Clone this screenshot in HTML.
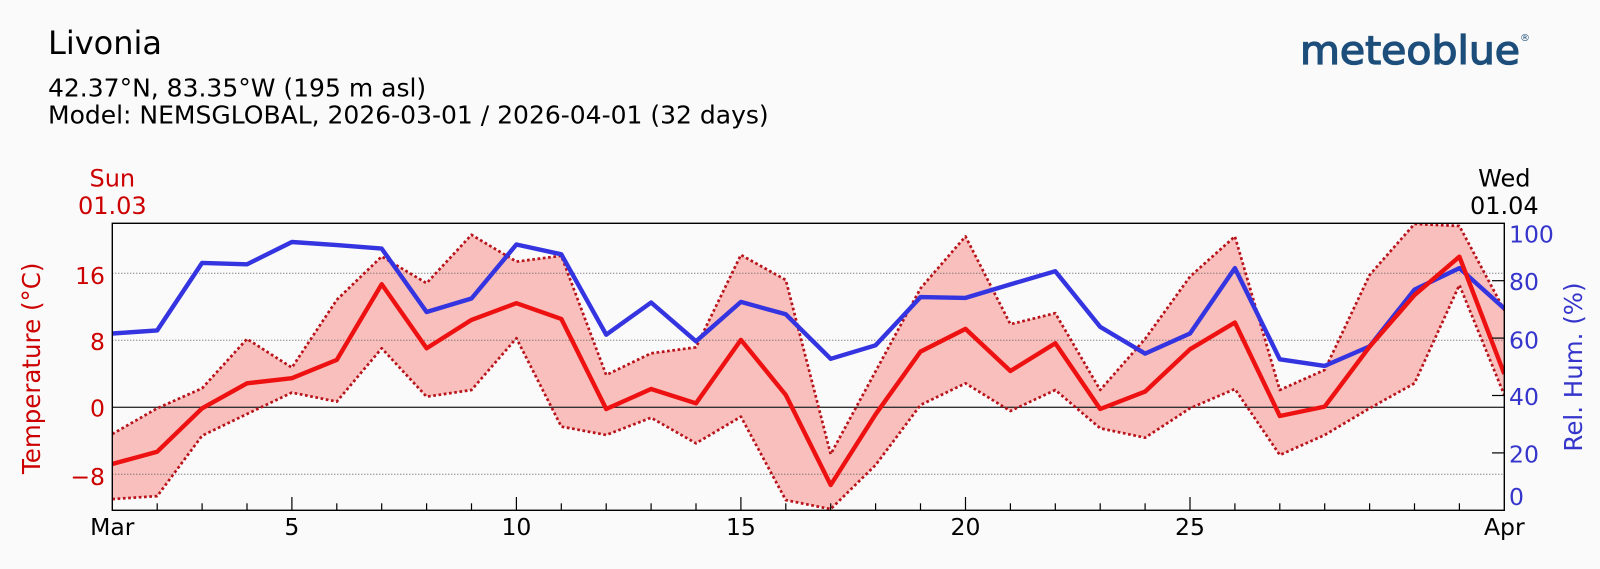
<!DOCTYPE html>
<html>
<head>
<meta charset="utf-8">
<style>
  html, body { margin:0; padding:0; background:#fafafa; }
  body { width:1600px; height:569px; overflow:hidden; }
  svg { display:block; }
  text { font-family: "DejaVu Sans", "Liberation Sans", sans-serif; }
</style>
</head>
<body>
<svg width="1600" height="569" viewBox="0 0 1600 569" xmlns="http://www.w3.org/2000/svg">
  <rect x="0" y="0" width="1600" height="569" fill="#fafafa"/>

  <!-- Header -->
  <text x="48" y="54" font-size="32" fill="#000">Livonia</text>
  <text x="48" y="96.7" font-size="25" fill="#000">42.37°N, 83.35°W (195 m asl)</text>
  <text x="48" y="123.3" font-size="25" fill="#000">Model: NEMSGLOBAL, 2026-03-01 / 2026-04-01 (32 days)</text>

  <!-- Logo -->
  <text x="1300" y="64" font-size="39" fill="#1d4e7b" stroke="#1d4e7b" stroke-width="1.3" textLength="220" lengthAdjust="spacingAndGlyphs">meteoblue</text>
  <text x="1520" y="41" font-size="10" fill="#1d4e7b">®</text>

  <defs>
    <clipPath id="plot">
      <rect x="112.3" y="223.3" width="1392" height="287"/>
    </clipPath>
  </defs>

  <g clip-path="url(#plot)">
    <!-- temperature range fill -->
    <polygon fill="#f9bfbc" stroke="none" points="
      112.3,434.0 157.2,408.3 202.1,388.3 247.0,338.9 291.9,367.6 336.8,299.8 381.7,256.5 426.6,283.2
      471.5,234.8 516.4,261.6 561.3,255.8 606.2,375.0 651.1,353.3 696.0,347.3 740.9,254.9 785.8,280.0
      830.7,454.2 875.6,371.3 920.5,288.4 965.5,236.4 1010.4,324.2 1055.3,313.2 1100.2,390.0 1145.1,338.9
      1190.0,276.6 1234.9,236.4 1279.8,390.0 1324.7,369.9 1369.6,275.0 1414.5,223.9 1459.4,226.0 1504.3,310.2
      1504.3,395.0 1459.4,285.0 1414.5,383.3 1369.6,408.3 1324.7,435.0 1279.8,455.0 1234.9,389.0 1190.0,408.3
      1145.1,437.7 1100.2,428.3 1055.3,390.0 1010.4,411.0 965.5,383.3 920.5,405.0 875.6,465.0 830.7,509.1
      785.8,500.1 740.9,416.7 696.0,443.3 651.1,417.7 606.2,435.0 561.3,426.6 516.4,338.2 471.5,390.0
      426.6,396.7 381.7,348.3 336.8,401.6 291.9,392.6 247.0,414.0 202.1,435.7 157.2,496.1 112.3,499.1"/>

    <!-- grid lines -->
    <g stroke="#555" stroke-width="1" stroke-dasharray="1 2">
      <line x1="112.3" y1="273.3" x2="1504.3" y2="273.3"/>
      <line x1="112.3" y1="340.3" x2="1504.3" y2="340.3"/>
      <line x1="112.3" y1="474.3" x2="1504.3" y2="474.3"/>
    </g>
    <line x1="112.3" y1="407.3" x2="1504.3" y2="407.3" stroke="#333" stroke-width="1.3"/>

    <!-- max dotted -->
    <polyline fill="none" stroke="#b8121a" stroke-width="2.7" stroke-dasharray="2.7 2.6" stroke-linejoin="round" points="
      112.3,434.0 157.2,408.3 202.1,388.3 247.0,338.9 291.9,367.6 336.8,299.8 381.7,256.5 426.6,283.2
      471.5,234.8 516.4,261.6 561.3,255.8 606.2,375.0 651.1,353.3 696.0,347.3 740.9,254.9 785.8,280.0
      830.7,454.2 875.6,371.3 920.5,288.4 965.5,236.4 1010.4,324.2 1055.3,313.2 1100.2,390.0 1145.1,338.9
      1190.0,276.6 1234.9,236.4 1279.8,390.0 1324.7,369.9 1369.6,275.0 1414.5,223.9 1459.4,226.0 1504.3,310.2"/>
    <!-- min dotted -->
    <polyline fill="none" stroke="#b8121a" stroke-width="2.7" stroke-dasharray="2.7 2.6" stroke-linejoin="round" points="
      112.3,499.1 157.2,496.1 202.1,435.7 247.0,414.0 291.9,392.6 336.8,401.6 381.7,348.3 426.6,396.7
      471.5,390.0 516.4,338.2 561.3,426.6 606.2,435.0 651.1,417.7 696.0,443.3 740.9,416.7 785.8,500.1
      830.7,509.1 875.6,465.0 920.5,405.0 965.5,383.3 1010.4,411.0 1055.3,390.0 1100.2,428.3 1145.1,437.7
      1190.0,408.3 1234.9,389.0 1279.8,455.0 1324.7,435.0 1369.6,408.3 1414.5,383.3 1459.4,285.0 1504.3,395.0"/>

    <!-- humidity -->
    <polyline fill="none" stroke="#3434e0" stroke-width="4.4" stroke-linejoin="round" points="
      112.3,333.5 157.2,330.4 202.1,262.9 247.0,264.3 291.9,242.0 336.8,245.1 381.7,248.6 426.6,312.0
      471.5,298.5 516.4,244.5 561.3,254.3 606.2,334.7 651.1,302.5 696.0,341.3 740.9,301.9 785.8,314.3
      830.7,358.8 875.6,345.3 920.5,297.1 965.5,297.9 1010.4,284.4 1055.3,271.2 1100.2,326.9 1145.1,353.6
      1190.0,333.5 1234.9,268.1 1279.8,359.3 1324.7,365.9 1369.6,346.4 1414.5,289.6 1459.4,268.1 1504.3,308.5"/>

    <!-- mean temperature -->
    <polyline fill="none" stroke="#ee1111" stroke-width="4.4" stroke-linejoin="round" points="
      112.3,464.0 157.2,451.7 202.1,408.3 247.0,383.3 291.9,378.2 336.8,359.9 381.7,284.2 426.6,348.3
      471.5,319.9 516.4,303.2 561.3,318.9 606.2,409.0 651.1,389.0 696.0,403.3 740.9,339.9 785.8,395.0
      830.7,485.0 875.6,414.3 920.5,351.6 965.5,328.9 1010.4,371.0 1055.3,343.2 1100.2,409.0 1145.1,391.6
      1190.0,349.3 1234.9,322.5 1279.8,416.0 1324.7,406.6 1369.6,346.7 1414.5,295.1 1459.4,256.7 1504.3,374.0"/>
  </g>

  <!-- frame -->
  <rect x="112.3" y="223.3" width="1392" height="287" fill="none" stroke="#000" stroke-width="1.4"/>

  <!-- bottom ticks (inward) -->
  <g stroke="#000" stroke-width="1.2">
    <line x1="157.2" y1="503.3" x2="157.2" y2="510.3"/>
    <line x1="202.1" y1="503.3" x2="202.1" y2="510.3"/>
    <line x1="247.0" y1="503.3" x2="247.0" y2="510.3"/>
    <line x1="291.9" y1="497" x2="291.9" y2="510.3"/>
    <line x1="336.8" y1="503.3" x2="336.8" y2="510.3"/>
    <line x1="381.7" y1="503.3" x2="381.7" y2="510.3"/>
    <line x1="426.6" y1="503.3" x2="426.6" y2="510.3"/>
    <line x1="471.5" y1="503.3" x2="471.5" y2="510.3"/>
    <line x1="516.4" y1="497" x2="516.4" y2="510.3"/>
    <line x1="561.3" y1="503.3" x2="561.3" y2="510.3"/>
    <line x1="606.2" y1="503.3" x2="606.2" y2="510.3"/>
    <line x1="651.1" y1="503.3" x2="651.1" y2="510.3"/>
    <line x1="696.0" y1="503.3" x2="696.0" y2="510.3"/>
    <line x1="740.9" y1="497" x2="740.9" y2="510.3"/>
    <line x1="785.8" y1="503.3" x2="785.8" y2="510.3"/>
    <line x1="830.7" y1="503.3" x2="830.7" y2="510.3"/>
    <line x1="875.6" y1="503.3" x2="875.6" y2="510.3"/>
    <line x1="920.5" y1="503.3" x2="920.5" y2="510.3"/>
    <line x1="965.5" y1="497" x2="965.5" y2="510.3"/>
    <line x1="1010.4" y1="503.3" x2="1010.4" y2="510.3"/>
    <line x1="1055.3" y1="503.3" x2="1055.3" y2="510.3"/>
    <line x1="1100.2" y1="503.3" x2="1100.2" y2="510.3"/>
    <line x1="1145.1" y1="503.3" x2="1145.1" y2="510.3"/>
    <line x1="1190.0" y1="497" x2="1190.0" y2="510.3"/>
    <line x1="1234.9" y1="503.3" x2="1234.9" y2="510.3"/>
    <line x1="1279.8" y1="503.3" x2="1279.8" y2="510.3"/>
    <line x1="1324.7" y1="503.3" x2="1324.7" y2="510.3"/>
    <line x1="1369.6" y1="503.3" x2="1369.6" y2="510.3"/>
    <line x1="1414.5" y1="503.3" x2="1414.5" y2="510.3"/>
    <line x1="1459.4" y1="503.3" x2="1459.4" y2="510.3"/>
    <!-- right axis ticks -->
    <line x1="1492" y1="452.9" x2="1504.3" y2="452.9"/>
    <line x1="1492" y1="395.5" x2="1504.3" y2="395.5"/>
    <line x1="1492" y1="338.1" x2="1504.3" y2="338.1"/>
    <line x1="1492" y1="280.7" x2="1504.3" y2="280.7"/>
  </g>

  <!-- bottom tick labels -->
  <g font-size="23.5" fill="#000" text-anchor="middle">
    <text x="112.3" y="535">Mar</text>
    <text x="291.9" y="535">5</text>
    <text x="516.4" y="535">10</text>
    <text x="740.9" y="535">15</text>
    <text x="965.5" y="535">20</text>
    <text x="1190.0" y="535">25</text>
    <text x="1504.3" y="535">Apr</text>
  </g>

  <!-- top date labels -->
  <g font-size="24" text-anchor="middle">
    <text x="112.3" y="186.7" fill="#cc0000">Sun</text>
    <text x="112.3" y="214" fill="#cc0000">01.03</text>
    <text x="1504.3" y="186.7" fill="#000">Wed</text>
    <text x="1504.3" y="214" fill="#000">01.04</text>
  </g>

  <!-- left tick labels -->
  <g font-size="23.5" fill="#cc0000" text-anchor="end">
    <text x="105" y="284">16</text>
    <text x="105" y="350">8</text>
    <text x="105" y="416.7">0</text>
    <text x="105" y="485">−8</text>
  </g>

  <!-- right tick labels -->
  <g font-size="23.5" fill="#3535cc" text-anchor="start">
    <text x="1509" y="242.7">100</text>
    <text x="1509" y="290">80</text>
    <text x="1509" y="348.3">60</text>
    <text x="1509" y="405">40</text>
    <text x="1509" y="462.7">20</text>
    <text x="1509" y="505">0</text>
  </g>

  <!-- axis titles -->
  <text transform="translate(40,368.3) rotate(-90)" font-size="24.5" fill="#cc0000" text-anchor="middle">Temperature (°C)</text>
  <text transform="translate(1582,367) rotate(-90)" font-size="24.5" fill="#3535cc" text-anchor="middle">Rel. Hum. (%)</text>
</svg>
</body>
</html>
